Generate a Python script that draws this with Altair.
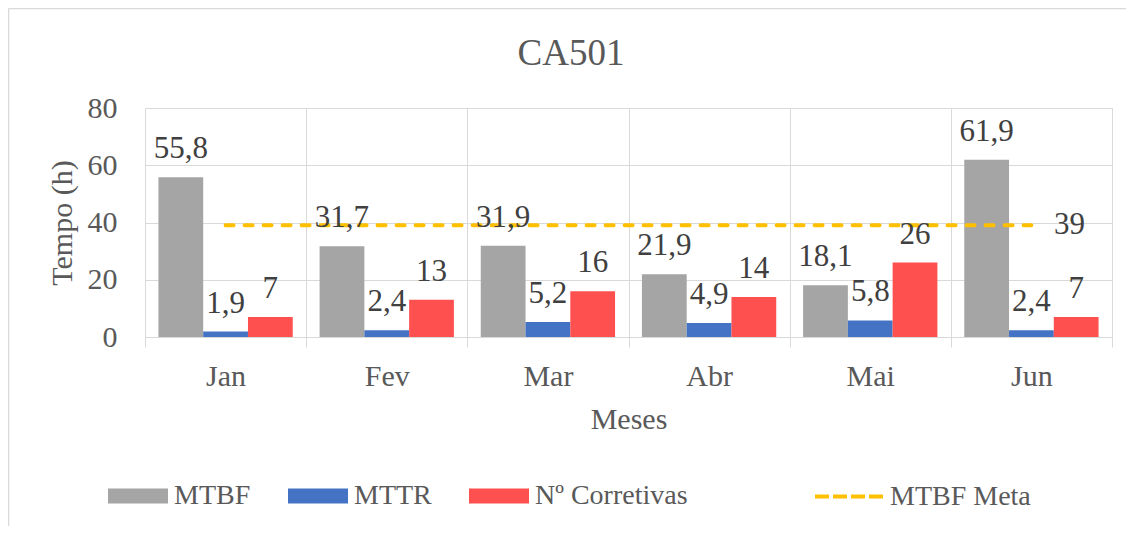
import altair as alt
import pandas as pd

titulo = "CA501"
meses = ["Jan", "Fev", "Mar", "Abr", "Mai", "Jun"]
mtbf = [55.8, 31.7, 31.9, 21.9, 18.1, 61.9]
mttr = [1.9, 2.4, 5.2, 4.9, 5.8, 2.4]
corretivas = [7, 13, 16, 14, 26, 7]
meta = [39, 39, 39, 39, 39, 39]
series = ["MTBF", "MTTR", "Nº Corretivas"]
colors = ["#A5A5A5", "#4472C4", "#FF5050"]
meta_name = "MTBF Meta"
meta_color = "#FFC000"

rows = []
for i, m in enumerate(meses):
    for s, vals in zip(series, [mtbf, mttr, corretivas]):
        v = vals[i]
        rows.append({"mes": m, "serie": s, "valor": v,
                     "rotulo": f"{v:g}".replace(".", ",")})
bars_df = pd.DataFrame(rows)
meta_df = pd.DataFrame({"mes": meses, "serie": meta_name, "valor": meta,
                        "rotulo": [f"{v:g}" for v in meta]})

FONT = "Liberation Serif"
TXT = "#595959"
GRID = "#D9D9D9"
W, H = 967, 229

x = alt.X("mes:N", sort=meses, title="Meses",
          scale=alt.Scale(paddingInner=0, paddingOuter=0),
          axis=alt.Axis(grid=True, gridColor=GRID, tickBand="extent", ticks=True,
                        tickSize=10, tickColor=GRID, domainColor=GRID,
                        labelFontSize=30, labelColor=TXT, labelBaseline="alphabetic",
                        labelPadding=38, labelAngle=0, titleFontSize=30,
                        titleColor=TXT, titleFontWeight="normal", titlePadding=13))
y = alt.Y("valor:Q", scale=alt.Scale(domain=[0, 80]),
          axis=alt.Axis(values=[0, 20, 40, 60, 80], title="Tempo (h)", grid=True,
                        gridColor=GRID, domain=False, ticks=False, labelPadding=28,
                        labelFontSize=30, labelColor=TXT, titleFontSize=30,
                        titleColor=TXT, titleFontWeight="normal", titlePadding=10))
xoff = alt.XOffset("serie:N", sort=series,
                   scale=alt.Scale(domain=series, paddingInner=0, paddingOuter=0.3))

bars = alt.Chart(bars_df).mark_bar().encode(
    x=x, y=y, xOffset=xoff,
    color=alt.Color("serie:N", sort=series,
                    scale=alt.Scale(domain=series, range=colors),
                    legend=alt.Legend(orient="none", legendX=-37, legendY=358,
                                      direction="horizontal", title=None,
                                      symbolType="M-1,-0.25H1V0.25H-1Z",
                                      symbolSize=3600, symbolStrokeWidth=0,
                                      symbolOpacity=1,
                                      labelFont=FONT, labelFontSize=28,
                                      labelColor=TXT, columnPadding=37,
                                      labelOffset=6, padding=0)))

bar_labels = alt.Chart(bars_df).mark_text(
    dy=-19, baseline="alphabetic", align="center", font=FONT, fontSize=31,
    color="#404040").encode(x=x, y=y, xOffset=xoff, text="rotulo:N")

line = alt.Chart(meta_df).mark_line(
    strokeDash=[8, 11], strokeWidth=4, strokeCap="round").encode(
    x=x, y=y,
    color=alt.Color("serie:N", scale=alt.Scale(domain=[meta_name], range=[meta_color]),
                    legend=alt.Legend(orient="none", legendX=668, legendY=352,
                                      direction="horizontal", title=None,
                                      symbolType="stroke", symbolSize=4761,
                                      symbolStrokeWidth=4, symbolDash=[14, 4],
                                      labelFont=FONT, labelFontSize=28,
                                      labelColor=TXT, labelOffset=4, padding=0)))

meta_label = alt.Chart(meta_df).transform_filter(
    alt.datum.mes == meses[-1]).mark_text(
    dx=38, baseline="middle", align="center", font=FONT, fontSize=31,
    color="#404040").encode(x=x, y=y, text="rotulo:N")

frame_df = pd.DataFrame({"k": [0]})
frame_left = alt.Chart(frame_df).mark_rule(color=GRID, strokeWidth=1.5).encode(
    x=alt.value(-136.5), y=alt.value(-99.5), y2=alt.value(430))
frame_top = alt.Chart(frame_df).mark_rule(color=GRID, strokeWidth=1.5).encode(
    x=alt.value(-136.5), x2=alt.value(1000), y=alt.value(-99.5))
title_mark = alt.Chart(frame_df).mark_text(
    font=FONT, fontSize=37, color=TXT, align="center", baseline="alphabetic").encode(
    x=alt.value(426), y=alt.value(-43), text=alt.value(titulo))

chart = alt.layer(bars, line, bar_labels, meta_label, frame_left, frame_top,
                  title_mark).resolve_scale(
    color="independent"
).properties(
    width=W, height=H,
    autosize=alt.AutoSizeParams(type="none"),
    padding={"left": 137, "top": 100, "right": 14, "bottom": 189},
).configure_view(stroke=None).configure_axis(labelFont=FONT, titleFont=FONT)

chart.save("out.html", embed_options={"renderer": "svg", "actions": False})
